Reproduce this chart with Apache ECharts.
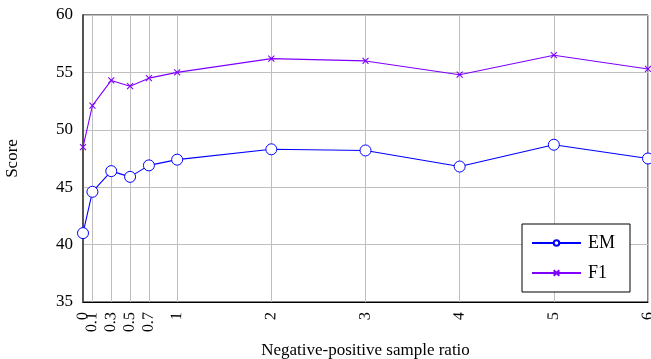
<!DOCTYPE html>
<html>
<head>
<meta charset="utf-8">
<script src="https://cdn.jsdelivr.net/npm/echarts@6/dist/echarts.min.js"></script>
<style>
  html, body { margin: 0; padding: 0; background: #fff; }
  #chart { width: 651px; height: 359px; }
</style>
</head>
<body>
<div id="chart"></div>
<script>
// sample ratios on the x axis
const ratios = [0, 0.1, 0.3, 0.5, 0.7, 1, 2, 3, 4, 5, 6];
const emScores = [41.0, 44.6, 46.4, 45.9, 46.9, 47.4, 48.3, 48.2, 46.8, 48.7, 47.5];
const f1Scores = [48.5, 52.1, 54.3, 53.8, 54.5, 55.0, 56.2, 56.0, 54.8, 56.5, 55.3];
const yTicks = [35, 40, 45, 50, 55, 60];

const font = '"Liberation Serif", "DejaVu Serif", serif';
const crossPath = 'path://M0,0L10,10M10,0L0,10';

const chart = echarts.init(document.getElementById('chart'));

const tickLabel = {
  rotate: 88,
  margin: 10,
  hideOverlap: false,
  fontFamily: font, fontSize: 16, color: '#000',
  formatter: v => String(v)
};

chart.setOption({
  animation: false,
  textStyle: { fontFamily: font },
  grid: {
    left: 83, right: 3, top: 15, bottom: 57,
    outerBoundsMode: 'none',
    containLabel: false,
    show: true, borderColor: '#000', borderWidth: 1
  },
  legend: {
    orient: 'vertical',
    left: 522, top: 224,
    padding: [10, 15, 10, 9],
    itemGap: 12,
    itemWidth: 49,
    itemHeight: 7,
    backgroundColor: '#fff',
    borderColor: '#000',
    borderWidth: 1,
    borderRadius: 0,
    textStyle: { fontFamily: font, fontSize: 18, color: '#000', padding: [0, 0, 0, 2] },
    data: ['EM', 'F1']
  },
  xAxis: [
    {
      type: 'value',
      min: 0, max: 6,
      name: 'Negative-positive sample ratio',
      nameLocation: 'middle',
      nameGap: 40,
      nameMoveOverlap: false,
      nameTextStyle: { fontFamily: font, fontSize: 17, color: '#000' },
      axisLine: { lineStyle: { color: '#000', width: 1 } },
      axisTick: { show: false, customValues: ratios },
      axisLabel: Object.assign({ customValues: ratios.slice(1), showMaxLabel: true }, tickLabel),
      splitLine: { show: true, lineStyle: { color: '#bfbfbf', width: 1 } }
    },
    {
      // separate axis just for the "0" label, so it is not dropped for overlapping 0.1
      type: 'value',
      position: 'bottom',
      min: 0, max: 6,
      axisLine: { show: false },
      axisTick: { show: false, customValues: [ratios[0]] },
      axisLabel: Object.assign({ customValues: [ratios[0]], showMinLabel: true }, tickLabel),
      splitLine: { show: false }
    }
  ],
  yAxis: [
    {
      type: 'value',
      min: 35, max: 60, interval: 5,
      name: 'Score',
      nameLocation: 'middle',
      nameGap: 62,
      nameMoveOverlap: false,
      nameTextStyle: { fontFamily: font, fontSize: 17, color: '#000' },
      axisLine: { show: true, lineStyle: { color: '#000', width: 1 } },
      axisTick: { show: false },
      axisLabel: {
        margin: 10,
        fontFamily: font, fontSize: 17, color: '#000',
        formatter: v => yTicks.includes(v) ? String(v) : ''
      },
      splitLine: { show: true, lineStyle: { color: '#bfbfbf', width: 1 } }
    },
    {
      // right frame edge, drawn a bit heavier and grey as in the original
      type: 'value',
      position: 'right',
      min: 35, max: 60, interval: 5,
      axisLine: { show: true, lineStyle: { color: '#555', width: 2 } },
      axisTick: { show: false },
      axisLabel: { show: false },
      splitLine: { show: false }
    }
  ],
  series: [
    {
      name: 'EM',
      type: 'line',
      data: ratios.map((r, i) => [r, emScores[i]]),
      symbol: 'circle',
      symbolSize: 11,
      showAllSymbol: true,
      lineStyle: { color: '#0000ff', width: 1.1 },
      itemStyle: { color: '#fff', borderColor: '#0000ff', borderWidth: 1 },
      z: 3
    },
    {
      name: 'F1',
      type: 'line',
      data: ratios.map((r, i) => [r, f1Scores[i]]),
      symbol: crossPath,
      symbolSize: 6,
      showAllSymbol: true,
      lineStyle: { color: '#7f00ff', width: 1.1 },
      itemStyle: { color: '#7f00ff', borderColor: '#7f00ff', borderWidth: 1.1 },
      z: 3
    }
  ]
});
</script>
</body>
</html>
